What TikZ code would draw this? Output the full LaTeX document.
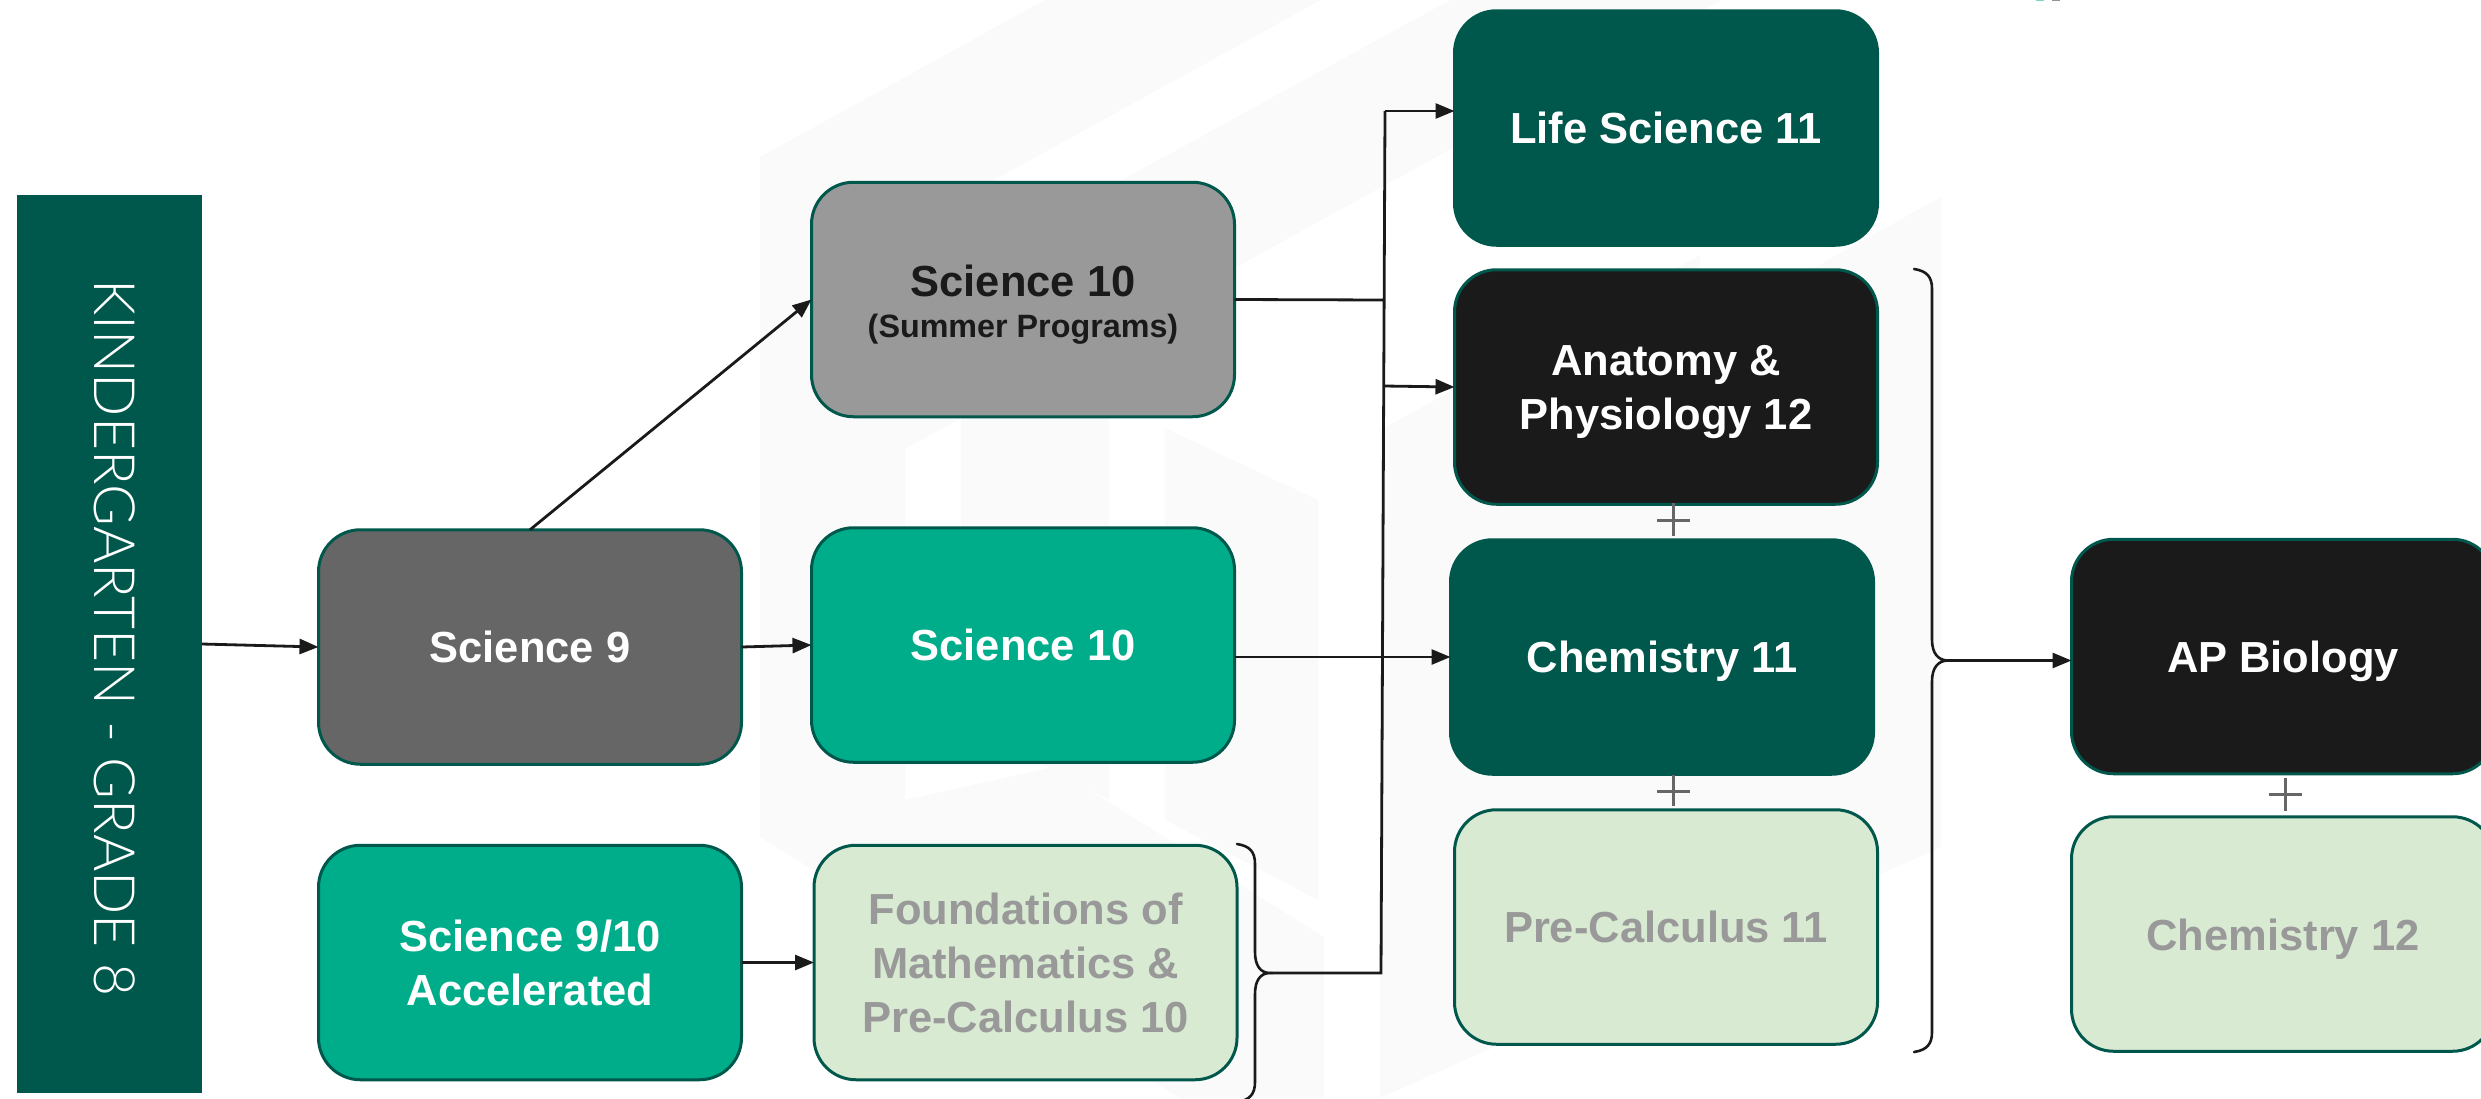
\documentclass[tikz,border=0pt]{standalone}
\usepackage{fontspec}
\setmainfont{Liberation Sans}
\newfontfamily\lightfont{Lato}[UprightFont={* Light}]
\usetikzlibrary{arrows.meta}
\definecolor{darkteal}{HTML}{00584C}
\definecolor{midgreen}{HTML}{00AD8A}
\definecolor{slate}{HTML}{666666}
\definecolor{midgrey}{HTML}{999999}
\definecolor{inky}{HTML}{1A1A1A}
\definecolor{palegreen}{HTML}{D9EAD3}
\definecolor{wmark}{HTML}{FAFAFA}
\newcommand{\lowfix}{\rule{0pt}{41pt}}
\tikzset{
  x=1pt,y=-1pt,
  course/.style={rectangle,rounded corners=42pt,draw=darkteal,line width=3pt,inner sep=0pt,outer sep=0pt,
    minimum width=423pt,minimum height=234.5pt,align=center,text=white,
    font=\fontsize{43.5}{54}\selectfont\bfseries},
  fillteal/.style={course,fill=darkteal},
  fillgreen/.style={course,fill=midgreen},
  fillslate/.style={course,fill=slate},
  fillgrey/.style={course,fill=midgrey,text=inky},
  fillink/.style={course,fill=inky},
  fillpale/.style={course,fill=palegreen,text=midgrey},
  link/.style={draw=inky,line width=2.8pt},
  flow/.style={link,-{Triangle[length=19pt,width=15pt]}},
  curly/.style={draw=inky,line width=2.6pt,line cap=round},
  plus/.style={draw=slate,line width=3pt}
}
\begin{document}
\begin{tikzpicture}
\useasboundingbox (0,0) rectangle (2481,1098);
\clip (0,0) rectangle (2481,1098);
% faint watermark
\fill[wmark] (760,157) -- (1045,0) -- (1321,0) -- (905,229) -- (905,926) -- (760,837) -- cycle;
\fill[wmark] (905,299) -- (1450,0) -- (1722,0) -- (905,449) -- cycle;
\fill[wmark] (961,417) -- (1109,336) -- (1109,800) -- (961,720) -- cycle;
\fill[wmark] (1165,428) -- (1318,500) -- (1318,900) -- (1165,820) -- cycle;
\fill[wmark] (760,837) -- (1180,1098) -- (1324,1098) -- (1324,937) -- (1053,767) -- (905,800) -- cycle;
\fill[wmark] (1380,510) -- (1941,197) -- (1941,847) -- (1380,1098) -- cycle;
\fill[wmark] (1380,430) -- (1700,255) -- (1700,335) -- (1380,510) -- cycle;
% top edge specks
\fill[midgreen!50] (2036,0) rectangle (2044,1.4);
\fill[slate!70] (2052,0) rectangle (2060,1.4);
% left bar
\node[rectangle,fill=darkteal,inner sep=0pt,outer sep=0pt,minimum width=185pt,minimum height=898pt] (kbar) at (109.5,644) {};
\node[rotate=-90,text=white,inner sep=0pt,font=\fontsize{57}{60}\selectfont\lightfont] (klabel) at (114.5,638) {KINDERGARTEN - GRADE 8};
% courses
\node[fillslate] (sci9) at (530,647) {Science 9};
\node[fillgreen] (acc) at (530,962.5) {Science 9/10\\Accelerated};
\node[fillgrey] (summer) at (1023,299.5) {\rule{0pt}{42pt}Science 10\\[-12.5pt]{\fontsize{32.3}{40}\selectfont (Summer Programs)}};
\node[fillgreen] (sci10) at (1023,645) {Science 10};
\node[fillpale] (found) at (1025.5,962.5) {Foundations of\\Mathematics \&\\Pre-Calculus 10};
\node[fillteal] (life) at (1666,128) {Life Science 11};
\node[fillink] (anat) at (1666,387) {\lowfix Anatomy \&\\Physiology 12};
\node[fillteal] (chem) at (1662,657) {\lowfix Chemistry 11};
\node[fillpale] (precalc) at (1666,927) {Pre-Calculus 11};
\node[fillink] (apbio) at (2283,656.5) {\lowfix AP Biology};
\node[fillpale] (chemtw) at (2283,934) {\lowfix Chemistry 12};
% junction points
\coordinate (bustop) at (1385,111);
\coordinate (busmid) at (1384.7,300);
\coordinate (busana) at (1384,386);
\coordinate (busbot) at (1381,973);
\coordinate (nubA) at (1270,973);
\coordinate (nubB) at (1948,660.5);
% connectors
\draw[flow] (kbar.east) -- (sci9.west);
\draw[flow] (sci9.north) -- (summer.west);
\draw[flow] (sci9.east) -- (sci10.west);
\draw[flow] (acc.east) -- (found.west);
\draw[link] (summer.east) -- (busmid);
\draw[flow] (sci10.east |- chem.west) -- (chem.west);
\draw[link,line join=miter] (nubA) -- (busbot) -- (bustop);
\draw[flow] (bustop) -- (life.west |- bustop);
\draw[flow] (busana) -- (anat.west);
\draw[flow] (nubB) -- (apbio.west |- nubB);
% braces
\draw[curly] (1237,844) .. controls (1250,846) and (1255,852) .. (1255,864) -- (1255,952)
  .. controls (1255,965) and (1260,973) .. (nubA) .. controls (1260,973) and (1255,981) .. (1255,994)
  -- (1255,1082) .. controls (1255,1094) and (1250,1100) .. (1237,1102);
\draw[curly] (1914,269) .. controls (1927,271) and (1932,277) .. (1932,289) -- (1932,640)
  .. controls (1932,653) and (1938,660.5) .. (nubB) .. controls (1938,660.5) and (1932,668) .. (1932,681)
  -- (1932,1032) .. controls (1932,1044) and (1927,1050) .. (1914,1052);
% plus signs
\draw[plus] (1673,503) -- (1673,536) (1657,520) -- (1690,520);
\draw[plus] (1673,775) -- (1673,806) (1657,791) -- (1690,791);
\draw[plus] (2285,778) -- (2285,811) (2268.5,794) -- (2301.5,794);
\end{tikzpicture}
\end{document}
